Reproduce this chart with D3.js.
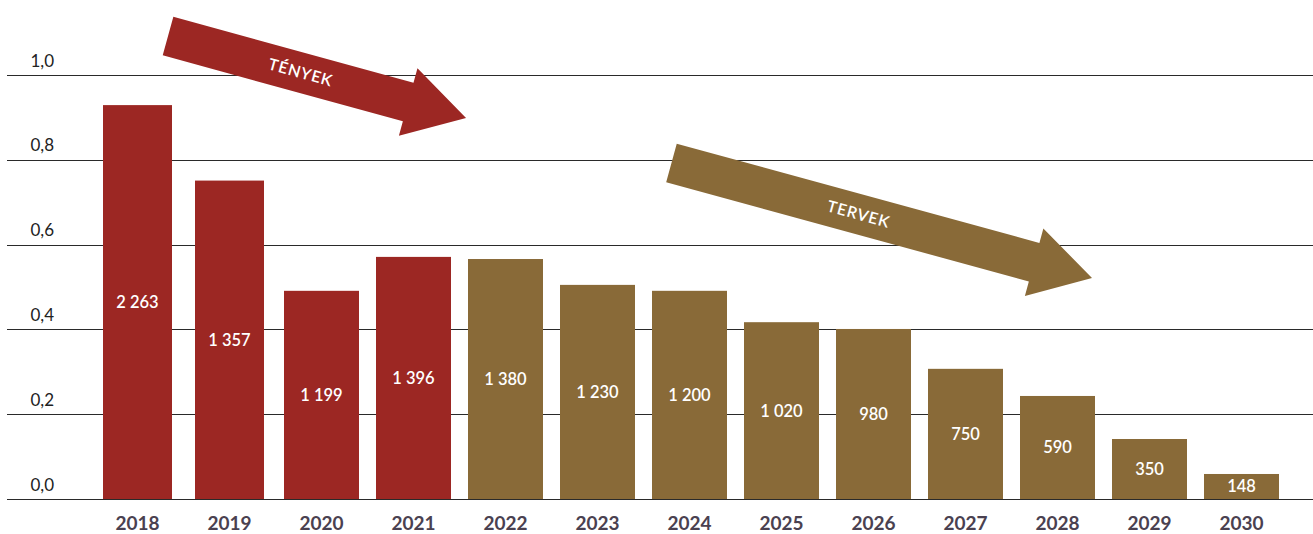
<!DOCTYPE html>
<html>
<head>
<meta charset="utf-8">
<script src="https://cdn.jsdelivr.net/npm/d3@7"></script>
<style>
  html, body { margin: 0; padding: 0; background: #fff; }
  svg { display: block; }
</style>
</head>
<body>
<svg id="chart" width="1313" height="534"></svg>
<script>
// ---- data ----
const years = ["2018","2019","2020","2021","2022","2023","2024","2025","2026","2027","2028","2029","2030"];
const values = [0.929, 0.751, 0.491, 0.571, 0.566, 0.505, 0.491, 0.417, 0.401, 0.307, 0.243, 0.1415, 0.059];
const barLabels = ["2 263","1 357","1 199","1 396","1 380","1 230","1 200","1 020","980","750","590","350","148"];
const kinds = ["fact","fact","fact","fact","plan","plan","plan","plan","plan","plan","plan","plan","plan"];
const yTicks = [0, 0.2, 0.4, 0.6, 0.8, 1.0];
const yTickLabels = ["0,0","0,2","0,4","0,6","0,8","1,0"];
// arrows: [start year-index, start value] -> [end year-index, end value]
const arrowNames = ["TÉNYEK", "TERVEK"];
const arrowStarts = [[0.332, 1.092], [5.804, 0.7925]];
const arrowEnds = [[3.571, 0.8986], [10.375, 0.5212]];
const arrowKinds = ["fact", "plan"];

// ---- styles ----
const colors = { fact: "#9c2723", plan: "#896a38" };

const svg = d3.select("#chart");
const W = 1313;

const x = d3.scaleBand().domain(years).range([91.5, 1287.5])
  .paddingInner(17/92).paddingOuter(17/184);
const y = d3.scaleLinear().domain([0, 1]).range([499, 75]);
const xi = d3.scaleLinear().domain([0, years.length - 1])
  .range([x(years[0]) + x.bandwidth()/2, x(years[years.length-1]) + x.bandwidth()/2]);

// gridlines
const yAxis = d3.axisLeft(y).tickValues(yTicks).tickSize(0).tickFormat((d,i) => yTickLabels[i]);
const gAxis = svg.append("g");
gAxis.selectAll("line.grid").data(yTicks).join("line")
  .attr("class","grid")
  .attr("x1", 7).attr("x2", W)
  .attr("y1", d => Math.round(y(d)) + 0.5).attr("y2", d => Math.round(y(d)) + 0.5)
  .attr("stroke", "#2a2a2a").attr("stroke-width", 1);

const gY = svg.append("g").attr("transform", "translate(54,-9)").call(yAxis);
gY.select(".domain").remove();
gY.selectAll("text")
  .attr("x", 0).attr("dy", 0)
  .attr("dominant-baseline", "alphabetic")
  .attr("text-anchor", "end")
  .style("font-family", "Lato, 'Open Sans', sans-serif")
  .style("font-size", "17px")
  .style("fill", "#222");

// bars
const narrow = new Set(["2018","2019"]);
const bw = d => narrow.has(d) ? x.bandwidth() - 6 : x.bandwidth();
const bars = svg.append("g");
bars.selectAll("rect").data(years).join("rect")
  .attr("x", d => x(d) + (x.bandwidth() - bw(d))/2)
  .attr("width", d => bw(d))
  .attr("y", (d,i) => y(values[i]))
  .attr("height", (d,i) => y(0) - y(values[i]))
  .attr("fill", (d,i) => colors[kinds[i]]);

// bar labels
bars.selectAll("text").data(years).join("text")
  .attr("x", d => x(d) + x.bandwidth()/2)
  .attr("y", (d,i) => (y(values[i]) + y(0))/2)
  .attr("text-anchor", "middle")
  .attr("dominant-baseline", "central")
  .style("font-family", "Lato, 'Open Sans', sans-serif")
  .style("font-size", "16.5px")
  .style("font-weight", "600")
  .style("fill", "#fff")
  .text((d,i) => barLabels[i]);

// x axis labels
const xAxis = d3.axisBottom(x).tickSize(0).tickPadding(0);
const gX = svg.append("g").attr("transform", "translate(0,499)").call(xAxis);
gX.select(".domain").remove();
gX.selectAll("text")
  .attr("y", 31).attr("dy", 0)
  .attr("dominant-baseline", "alphabetic")
  .style("font-family", "Lato, 'Open Sans', sans-serif")
  .style("font-size", "19px")
  .style("font-weight", "700")
  .style("fill", "#4a4150");

// arrows
const shaftW = 40, headW = 70, headL = 60;
const gArr = svg.append("g");
arrowNames.forEach((name, i) => {
  const x0 = xi(arrowStarts[i][0]), y0 = y(arrowStarts[i][1]);
  const x1 = xi(arrowEnds[i][0]), y1 = y(arrowEnds[i][1]);
  const L = Math.hypot(x1 - x0, y1 - y0);
  const ang = Math.atan2(y1 - y0, x1 - x0) * 180 / Math.PI;
  const pts = [[0,-shaftW/2],[L-headL,-shaftW/2],[L-headL,-headW/2],[L,0],[L-headL,headW/2],[L-headL,shaftW/2],[0,shaftW/2]];
  const g = gArr.append("g").attr("transform", `translate(${x0},${y0}) rotate(${ang})`);
  g.append("polygon").attr("points", pts.map(p => p.join(",")).join(" "))
    .attr("fill", colors[arrowKinds[i]]);
  g.append("text")
    .attr("x", L * 0.445).attr("y", -1)
    .attr("text-anchor", "middle")
    .attr("dominant-baseline", "central")
    .style("font-family", "Lato, 'Open Sans', sans-serif")
    .style("font-size", "16px")
    .style("font-weight", "600")
    .style("letter-spacing", "0.8px")
    .style("fill", "#fff")
    .text(name);
});
</script>
</body>
</html>
